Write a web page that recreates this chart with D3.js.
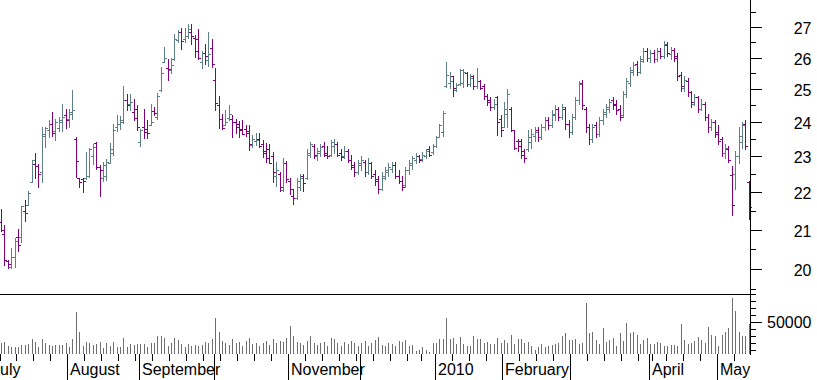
<!DOCTYPE html>
<html><head><meta charset="utf-8">
<script src="https://cdn.jsdelivr.net/npm/d3@7"></script>
<style>
body{margin:0;background:#fff;}
svg{display:block;}
text{font-family:"Liberation Sans",Arial,sans-serif;font-size:16px;fill:#000;}
</style>
</head><body>
<svg id="chart" width="817" height="380"></svg>
<script>
// ---- calendar (categories) ----
const calendarStart = "2009-07-01";
const firstDataDay = "2009-07-06";
const lastDataDay = "2010-05-14";
const holidays = ["2009-12-25","2010-01-01","2010-04-02","2010-04-05"];

// ---- series values (one entry per trading day from 2009-07-06) ----
const open = [
21.21,20.88,20.20,20.06,20.29,20.82,20.81,21.50,21.65,22.28,
22.77,22.72,22.56,23.64,23.75,23.93,23.73,23.82,24.00,24.20,
24.10,24.30,23.50,22.38,22.37,22.38,22.45,23.00,23.38,22.70,
22.40,22.45,22.82,23.10,23.85,23.95,24.00,24.65,24.55,24.30,
24.40,23.40,23.85,23.80,23.92,24.33,24.15,24.97,25.87,25.68,
25.60,25.95,26.57,26.82,26.60,26.70,26.82,26.65,26.62,25.85,
26.15,25.92,26.30,25.30,24.50,24.10,23.92,24.12,24.10,24.00,
23.93,23.80,23.78,23.72,23.33,23.45,23.50,23.35,23.15,23.22,
23.00,22.45,22.50,22.07,22.82,22.32,21.90,21.85,22.15,22.45,
22.40,23.05,23.30,23.00,23.10,23.30,23.10,23.05,23.30,23.35,
23.10,23.00,23.15,22.90,22.75,22.55,22.75,22.85,22.55,22.80,
22.50,22.35,22.10,22.40,22.55,22.65,22.75,22.45,22.30,22.20,
22.60,22.75,22.90,23.00,22.92,23.00,23.20,23.12,23.30,23.55,
23.70,25.10,25.20,25.40,24.98,25.15,25.20,25.52,25.15,25.40,
25.10,25.25,25.10,24.80,24.65,24.45,24.75,24.10,23.85,24.25,
24.40,23.75,23.45,23.45,23.15,23.20,23.40,23.60,23.75,23.55,
23.85,24.05,23.90,24.20,24.40,24.15,24.40,23.95,23.70,24.15,
24.65,25.20,24.40,23.85,23.50,23.90,23.65,24.05,24.25,24.40,
24.65,24.55,24.40,24.20,24.85,25.20,25.55,25.80,25.55,25.90,
26.20,26.00,26.15,25.95,26.20,26.05,26.40,26.10,26.25,26.05,
25.45,25.05,25.25,24.90,24.55,24.75,24.40,24.55,24.15,23.85,
24.00,23.70,23.50,23.10,23.20,22.48,22.50,23.00,23.40,23.95,
22.28];
const high = [
21.55,21.12,20.22,20.52,20.79,21.01,21.62,21.78,22.04,22.89,
23.10,22.77,23.85,23.85,24.05,24.30,24.10,24.14,24.53,24.38,
24.38,24.98,23.55,22.40,22.38,23.13,23.23,23.35,23.40,22.75,
22.83,22.92,23.37,23.94,24.20,24.18,25.10,24.85,24.85,24.70,
24.50,23.80,24.38,24.05,24.55,24.45,24.87,25.71,26.35,25.95,
25.99,26.77,26.90,26.98,26.98,27.12,27.12,26.73,26.93,26.20,
26.43,26.82,26.62,25.68,24.80,24.25,24.37,24.52,24.22,24.08,
24.03,24.05,23.90,23.90,23.62,23.67,23.67,23.47,23.37,23.35,
23.12,22.85,22.56,22.95,22.88,22.38,22.10,22.38,22.50,22.50,
23.20,23.42,23.35,23.25,23.35,23.42,23.30,23.48,23.50,23.40,
23.22,23.30,23.20,23.05,22.85,22.90,23.00,22.90,22.95,22.85,
22.62,22.45,22.55,22.70,22.80,22.85,22.85,22.60,22.45,22.70,
22.90,23.00,23.10,23.05,23.12,23.22,23.30,23.36,23.60,23.95,
24.33,25.84,25.53,25.42,25.18,25.62,25.62,25.53,25.48,25.45,
25.65,25.30,25.15,24.85,24.75,24.70,24.78,24.20,24.60,25.00,
24.45,23.75,23.50,23.50,23.20,23.75,23.80,23.85,23.85,23.95,
24.15,24.15,24.35,24.50,24.45,24.55,24.45,24.05,24.25,24.75,
25.25,25.30,24.45,23.95,23.95,24.00,24.15,24.40,24.55,24.70,
24.75,24.65,24.50,24.95,25.35,25.70,25.85,25.90,26.05,26.30,
26.30,26.25,26.25,26.30,26.30,26.55,26.50,26.35,26.30,26.15,
25.55,25.40,25.35,24.95,24.85,24.80,24.70,24.60,24.25,24.10,
24.05,23.90,23.55,23.35,23.30,22.72,23.15,23.85,24.00,24.05,
22.30];
const low = [
20.97,20.10,20.03,20.02,20.06,20.44,20.67,21.22,21.65,22.28,
22.39,22.15,22.28,23.26,23.55,23.58,23.48,23.74,23.74,23.83,
23.85,24.10,22.41,22.13,22.00,22.36,22.43,22.78,22.65,21.90,
22.32,22.34,22.80,23.05,23.74,23.80,23.97,24.35,24.35,24.05,
23.75,23.30,23.52,23.52,23.90,24.20,24.08,24.95,25.85,25.28,
25.51,25.92,26.50,26.27,26.52,26.63,26.43,26.02,25.95,25.65,
25.80,25.72,25.70,24.37,23.83,23.80,23.90,24.06,23.55,23.67,
23.55,23.64,23.58,23.18,23.28,23.33,23.27,22.98,22.85,22.80,
22.29,22.16,22.04,22.04,22.29,21.95,21.68,21.82,22.06,22.02,
22.35,22.98,22.95,22.90,23.00,23.00,22.95,23.00,23.10,23.00,
22.90,22.95,22.85,22.65,22.45,22.50,22.60,22.45,22.50,22.40,
22.20,21.98,22.05,22.35,22.45,22.55,22.40,22.25,22.05,22.15,
22.50,22.65,22.80,22.85,22.88,22.95,23.02,23.08,23.27,23.55,
23.60,25.06,25.05,24.78,24.95,25.13,25.08,25.10,25.10,25.00,
25.05,25.00,24.70,24.50,24.35,24.40,23.62,23.58,23.85,23.85,
23.72,23.20,23.15,22.95,22.85,23.15,23.25,23.45,23.45,23.50,
23.75,23.80,23.85,24.05,24.05,24.10,23.80,23.55,23.65,24.10,
24.55,24.40,23.70,23.35,23.40,23.55,23.60,23.95,24.15,24.30,
24.40,24.25,24.05,24.15,24.75,25.10,25.45,25.45,25.50,25.85,
25.90,25.85,25.85,25.90,26.00,26.00,26.05,25.95,25.90,25.30,
24.95,24.95,24.80,24.45,24.50,24.30,24.35,24.05,23.70,23.75,
23.55,23.35,23.00,22.95,22.85,21.38,22.10,22.80,23.25,23.20,
21.28];
const close = [
20.98,20.22,20.12,20.29,20.70,20.60,21.62,21.44,21.98,22.89,
22.72,22.50,23.60,23.81,23.95,23.68,24.00,24.05,24.15,24.07,
24.23,24.35,22.86,22.29,22.31,22.45,23.20,23.28,22.70,22.60,
22.75,22.85,23.20,23.75,23.95,24.05,24.65,24.50,24.60,24.12,
23.85,23.75,23.70,23.68,24.00,24.28,24.80,25.52,26.00,25.62,
25.75,26.60,26.85,26.53,26.70,26.95,26.72,26.20,25.97,26.15,
26.05,26.10,25.80,24.56,24.10,23.81,24.00,24.25,24.00,23.85,
23.75,23.65,23.67,23.35,23.50,23.48,23.30,23.10,22.95,22.82,
22.55,22.62,22.15,22.80,22.35,22.10,21.85,22.30,22.40,22.25,
23.10,23.35,23.05,23.15,23.28,23.05,23.00,23.40,23.35,23.05,
22.98,23.15,22.90,22.70,22.55,22.80,22.90,22.55,22.80,22.45,
22.30,22.10,22.45,22.60,22.70,22.75,22.45,22.30,22.15,22.60,
22.80,22.95,23.00,22.90,23.05,23.15,23.05,23.30,23.55,23.90,
24.28,25.45,25.25,25.05,25.12,25.60,25.55,25.15,25.35,25.10,
25.25,25.05,24.80,24.60,24.45,24.55,24.00,23.75,24.40,24.85,
23.75,23.25,23.30,23.05,22.95,23.55,23.65,23.70,23.55,23.85,
24.05,23.90,24.25,24.40,24.15,24.45,23.95,23.70,24.15,24.65,
25.15,24.50,23.85,23.50,23.85,23.65,24.05,24.30,24.45,24.60,
24.50,24.35,24.15,24.85,25.25,25.60,25.75,25.55,25.95,26.20,
26.00,26.15,25.95,26.20,26.05,26.45,26.15,26.25,26.00,25.40,
25.10,25.30,24.90,24.60,24.75,24.40,24.55,24.15,23.85,24.00,
23.65,23.45,23.10,23.25,22.90,21.66,23.00,23.60,23.90,23.30,
21.60];
const volume = [
20000,22000,16000,14500,14500,15000,17500,17500,19000,26000,
22000,15000,26000,21000,17500,16000,17500,17500,17500,21000,
15000,26000,65000,36500,16000,21500,20000,17500,19000,22000,
13000,20000,16000,22000,15000,14500,27000,15000,19000,17500,
19000,19000,19000,14500,20000,21000,30500,30500,28000,16000,
21000,27000,25000,19000,14500,19000,16000,18000,17000,
18000,22000,20000,26000,56000,36000,24000,21000,18000,26000,
20000,22000,17000,24000,28000,19000,21000,17000,20000,23000,
18000,26000,20000,24000,22000,28000,45000,30000,22000,20000,
18000,24000,30000,21000,18000,20000,22000,17000,28000,26000,
20000,17000,22000,19000,24000,21000,16000,20000,23000,17000,
20000,25000,29000,18000,16000,21000,19000,17000,24000,
22400,24800,16300,17750,9700,10700,14500,10700,8300,20200,
21000,25800,25800,55600,25800,27200,19200,28600,19200,16300,
16300,30500,25800,25800,21000,22400,19200,19200,27200,21000,
24800,21000,31900,19200,25800,25800,21000,22400,16300,10700,
15300,19200,15300,16300,17750,19200,21000,30500,35200,24800,
24800,25800,19200,20200,77700,35200,36600,24800,19200,
42300,22400,24800,27200,16300,35200,23900,49400,34300,36600,
31900,19200,24800,27200,19200,19200,21600,20200,16300,16300,
17750,17750,16300,47500,24800,19200,21000,23900,28600,24800,
21000,42800,31900,30500,16300,31900,36600,41400,84000,66300,
36600,30500,30500,47500];

// ---- axis ticks / labels ----
const priceTicks = [20,21,22,23,24,25,26,27];
const priceMinorTicks = [19.5,20.5,21.5,22.5,23.5,24.5,25.5,26.5,27.5];
const volumeTicks = [10000,20000,30000,40000,50000,60000,70000,80000,90000];
const volumeLabelTicks = [50000];
const monthLabels = ["July","August","September","","November","","2010","February","","April","May"];

// ---- build trading calendar ----
const parse = d3.utcParse("%Y-%m-%d"), fmt = d3.utcFormat("%Y-%m-%d");
const calendar = d3.utcDays(parse(calendarStart), d3.utcDay.offset(parse(lastDataDay), 1))
  .filter(d => d.getUTCDay() !== 0 && d.getUTCDay() !== 6 && !holidays.includes(fmt(d)))
  .map(fmt);
const dataDays = calendar.slice(calendar.indexOf(firstDataDay));
const bars = dataDays.map((d, i) => ({date: d, o: open[i], h: high[i], l: low[i], c: close[i], v: volume[i]}));

// ---- layout ----
const axisX = 750, sepY = 294, volBase = 354;
const firstX = 1, lastX = 748.7;
const step = (lastX - firstX) / (dataDays.length - 1);
const lead = calendar.indexOf(firstDataDay);
const x = d3.scalePoint().domain(calendar).range([firstX - lead * step, lastX]);
const y = d3.scaleLog().domain([20, 27]).range([269, 27.1]);
const yv = d3.scaleLinear().domain([5000, 90000]).range([volBase, sepY]);

const UP = "#5f7f86", DOWN = "#800080", VOL = "#6e6e6e";

const svg = d3.select("#chart").attr("shape-rendering", "crispEdges");

// volume bars
svg.append("g").selectAll("rect").data(bars).join("rect")
  .attr("x", d => Math.round(x(d.date)))
  .attr("y", d => Math.round(yv(d.v)))
  .attr("width", 1)
  .attr("height", d => volBase - Math.round(yv(d.v)))
  .attr("fill", VOL);

// OHLC bars
const g = svg.append("g").selectAll("g").data(bars).join("g")
  .attr("fill", d => d.c >= d.o ? UP : DOWN);
g.append("rect")
  .attr("x", d => Math.round(x(d.date)))
  .attr("y", d => Math.round(y(d.h)))
  .attr("width", 1)
  .attr("height", d => Math.round(y(d.l)) - Math.round(y(d.h)) + 1);
g.append("rect")
  .attr("x", d => Math.round(x(d.date)) - 2)
  .attr("y", d => Math.round(y(d.o)))
  .attr("width", 2).attr("height", 1);
g.append("rect")
  .attr("x", d => Math.round(x(d.date)) + 1)
  .attr("y", d => Math.round(y(d.c)))
  .attr("width", 2).attr("height", 1);

// frame lines
svg.append("rect").attr("x", 0).attr("y", sepY).attr("width", axisX + 1).attr("height", 1).attr("fill", "#000");
svg.append("rect").attr("x", axisX).attr("y", 0).attr("width", 1).attr("height", volBase + 1).attr("fill", "#000");

// price axis
const pa = svg.append("g");
pa.selectAll(".pmin").data(priceMinorTicks).join("rect")
  .attr("x", axisX + 1).attr("y", d => Math.round(y(d))).attr("width", 5).attr("height", 1).attr("fill", "#000");
pa.selectAll(".pmaj").data(priceTicks).join("rect")
  .attr("x", axisX + 1).attr("y", d => Math.round(y(d))).attr("width", 11).attr("height", 1).attr("fill", "#000");
pa.selectAll("text").data(priceTicks).join("text")
  .attr("x", 811.5).attr("y", d => Math.round(y(d)) + 6.5)
  .attr("text-anchor", "end").text(d => d);

// volume axis
const va = svg.append("g");
va.selectAll("rect").data(volumeTicks).join("rect")
  .attr("x", axisX + 1).attr("y", d => Math.round(yv(d)))
  .attr("width", d => volumeLabelTicks.includes(d) ? 11 : 5).attr("height", 1).attr("fill", "#000");
va.selectAll("text").data(volumeLabelTicks).join("text")
  .attr("x", 811.5).attr("y", d => Math.round(yv(d)) + 6)
  .attr("text-anchor", "end").text(d => d);

// time axis: month starts and week starts
const monthStarts = calendar.filter((d, i) => i === 0 || d.slice(0, 7) !== calendar[i - 1].slice(0, 7));
const weekStarts = calendar.filter((d, i) => i > 0 &&
  parse(d).getUTCDay() < parse(calendar[i - 1]).getUTCDay() && !monthStarts.includes(d));
const tickX = d => Math.round(x(d) - 1.5);
const ta = svg.append("g");
ta.selectAll(".wk").data(weekStarts).join("rect")
  .attr("x", tickX).attr("y", volBase).attr("width", 1).attr("height", 7).attr("fill", "#000");
ta.selectAll(".mo").data(monthStarts).join("rect")
  .attr("x", tickX).attr("y", volBase).attr("width", 1).attr("height", 380 - volBase).attr("fill", "#000");
ta.selectAll("text").data(monthStarts).join("text")
  .attr("x", d => tickX(d) + 3).attr("y", 375)
  .text((d, i) => monthLabels[i] || "");
</script>
</body></html>
